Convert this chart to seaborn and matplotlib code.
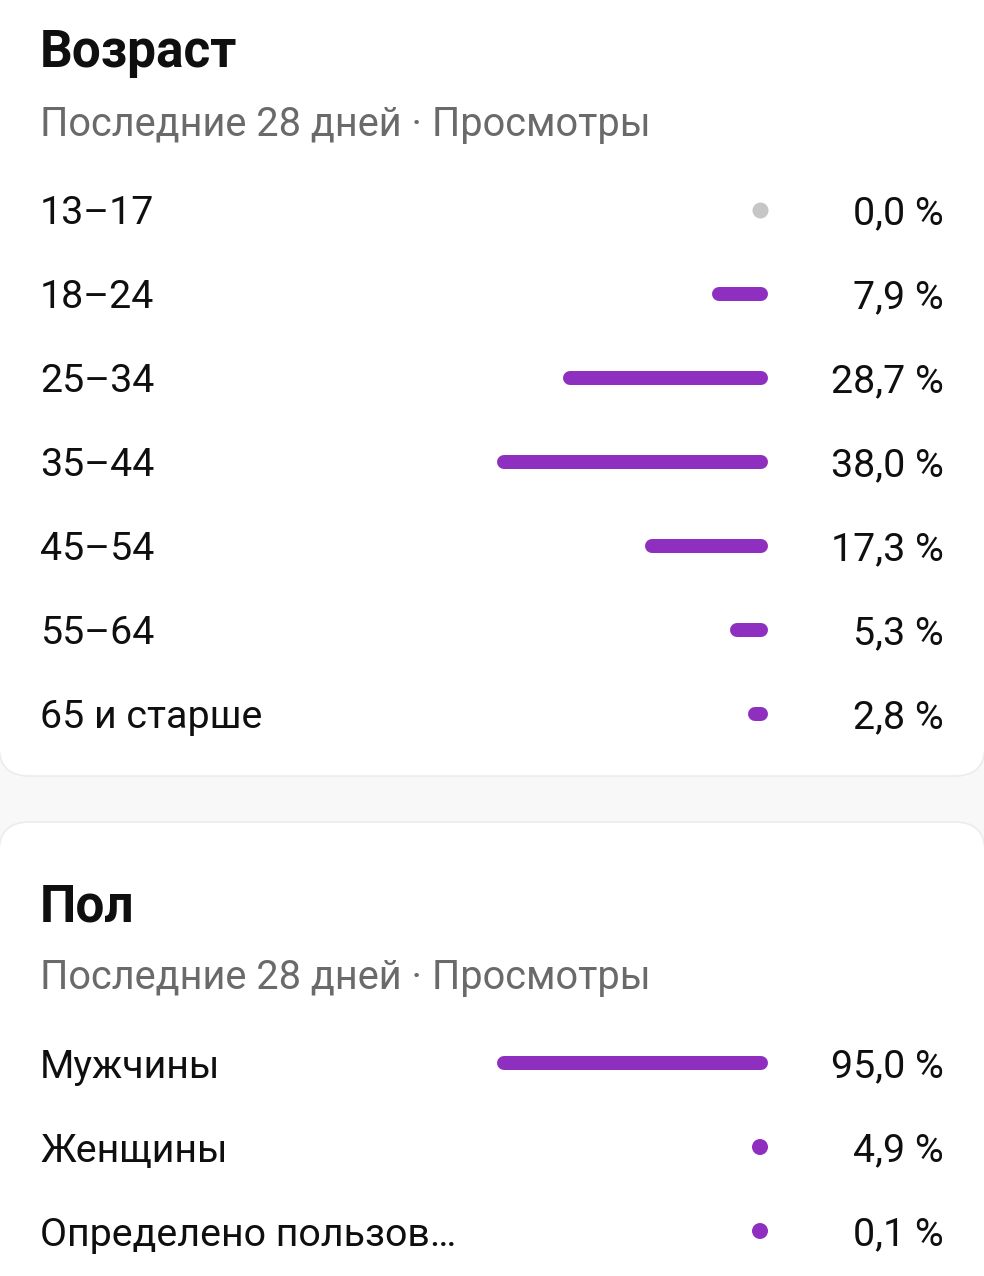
import matplotlib
matplotlib.use("Agg")
import matplotlib.pyplot as plt
from matplotlib.patches import FancyBboxPatch
import seaborn as sns

# ---- data ----
age_title = "Возраст"
gender_title = "Пол"
subtitle = "Последние 28 дней · Просмотры"
age_labels = ["13–17", "18–24", "25–34", "35–44", "45–54", "55–64", "65 и старше"]
age_values = [0.0, 7.9, 28.7, 38.0, 17.3, 5.3, 2.8]
age_texts = ["0,0 %", "7,9 %", "28,7 %", "38,0 %", "17,3 %", "5,3 %", "2,8 %"]
gender_labels = ["Мужчины", "Женщины", "Определено пользов…"]
gender_values = [95.0, 4.9, 0.1]
gender_texts = ["95,0 %", "4,9 %", "0,1 %"]

sns.set_theme(style="white")
plt.rcParams['font.family'] = ['Roboto', 'DejaVu Sans']

W, H = 984, 1276
PURPLE = "#8f2fc0"
GRAY = "#c6c6c6"
TXT = "#0f0f0f"
SUB = "#6a6a6a"

fig = plt.figure(figsize=(W / 100, H / 100), dpi=100)
fig.patch.set_facecolor("#f8f8f8")
bg = fig.add_axes([0, 0, 1, 1])
bg.set_xlim(0, W)
bg.set_ylim(H, 0)
bg.axis("off")

# cards
for y0, y1 in [(-60, 776), (822, H + 60)]:
    bg.add_patch(FancyBboxPatch((-1, y0), W + 2, y1 - y0,
                                boxstyle="round,pad=0,rounding_size=30",
                                facecolor="white", edgecolor="#ececec", lw=1.2))

LEFT = 40
RIGHT_TXT = 944
BAR_L, BAR_R = 497, 768
ROW = 84


def card(title, title_base, sub_base, first_row, labels, values, texts):
    bg.text(LEFT, title_base, title, fontsize=37, fontweight="bold", color=TXT,
            va="baseline", ha="left")
    bg.text(LEFT, sub_base, subtitle, fontsize=28.6, color=SUB,
            va="baseline", ha="left")
    n = len(labels)
    for i, (lab, t) in enumerate(zip(labels, texts)):
        yc = first_row + ROW * i
        bg.text(LEFT, yc + 14.5, lab, fontsize=28.4, color=TXT, va="baseline", ha="left")
        bg.text(RIGHT_TXT, yc + 14.5, t, fontsize=28.4, color=TXT, va="baseline", ha="right")
    # bar axes
    top = first_row - ROW / 2
    bot = first_row + ROW * (n - 1) + ROW / 2
    ax = fig.add_axes([BAR_L / W, 1 - bot / H, (BAR_R - BAR_L) / W, (bot - top) / H])
    vmax = max(values)
    ax.patch.set_alpha(0)
    scale = (BAR_R - BAR_L) / vmax
    r = 7.0 / scale
    lw = 14 * 72 / 100
    dots_x, dots_y, dots_c = [], [], []
    for i, v in enumerate(values):
        if v * scale >= 16:
            lc = ax.hlines(i, r, v - r, colors=PURPLE, lw=lw)
            lc.set_capstyle("round")
        else:
            dots_x.append(8.0 / scale)
            dots_y.append(i)
            dots_c.append(GRAY if v == 0 else PURPLE)
    if dots_x:
        sns.scatterplot(x=dots_x, y=dots_y, ax=ax, s=(16 * 0.72) ** 2,
                        c=dots_c, linewidth=0, legend=False)
    ax.set_xlim(vmax, 0)
    ax.set_ylim(n - 0.5, -0.5)
    ax.axis("off")


card(age_title, 67, 136, 210, age_labels, age_values, age_texts)
card(gender_title, 922, 989, 1063, gender_labels, gender_values, gender_texts)

fig.savefig("out.png", dpi=100, facecolor=fig.get_facecolor())
